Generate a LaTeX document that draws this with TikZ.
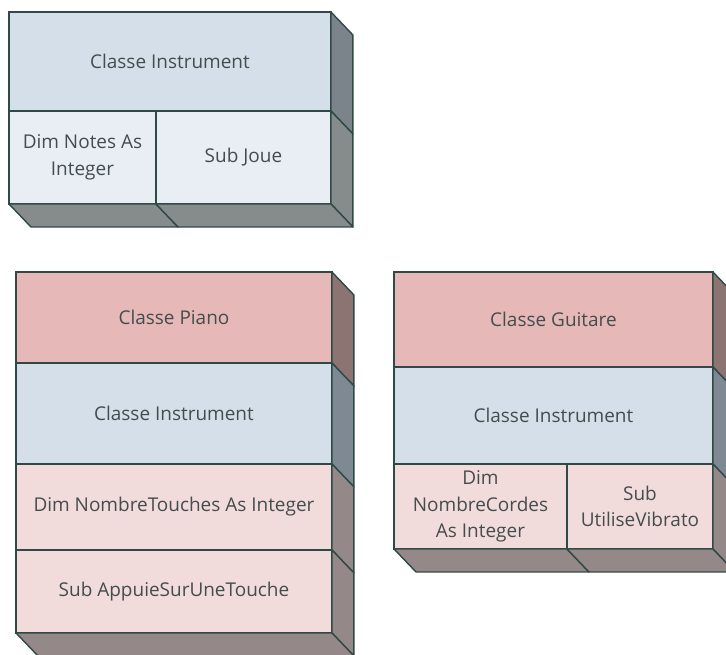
\documentclass[tikz,border=0pt]{standalone}
\usepackage{fontspec}
\setmainfont{Open Sans}
\usetikzlibrary{positioning, backgrounds}
\definecolor{edgegreen}{HTML}{2F4A46}
\definecolor{textgray}{HTML}{444D4D}
\definecolor{bluehead}{HTML}{D5DFE9}
\definecolor{bluelight}{HTML}{E9EEF4}
\definecolor{pinkhead}{HTML}{E6B8B7}
\definecolor{pinklight}{HTML}{F2DCDB}
\definecolor{sideblue}{HTML}{7B848A}
\definecolor{sidegray}{HTML}{868B8C}
\definecolor{sidepinkhead}{HTML}{8C7472}
\definecolor{sidebluemid}{HTML}{7E8993}
\definecolor{sidepink}{HTML}{958888}

\begin{document}
\begin{tikzpicture}[
        x=0.02cm, y=-0.02cm,
        cell/.style={rectangle, draw=edgegreen, line width=0.8pt, outer sep=0pt, inner sep=2pt,
                     align=center, text=textgray, font=\fontsize{10.8}{15}\selectfont},
        face/.style={draw=edgegreen, line width=0.8pt, line join=round},
    ]
    \clip (0,0) rectangle (726,654);
    \fill[white] (0,0) rectangle (726,654);

    % ===== Classe Instrument (alone) =====
    \node[cell, fill=bluehead, anchor=north west, minimum width=6.44cm, minimum height=1.98cm]
        (I_HEAD) at (9,12) {Classe Instrument};
    \node[cell, fill=bluelight, minimum width=2.94cm, minimum height=1.86cm,
          below right=0pt and 0pt of I_HEAD.south west] (I_DIM) {Dim Notes As\\Integer};
    \node[cell, fill=bluelight, minimum width=3.5cm, minimum height=1.86cm,
          right=0pt of I_DIM] (I_SUB) {Sub Joue};

    % ===== Classe Piano =====
    \node[cell, fill=pinkhead, anchor=north west, minimum width=6.32cm, minimum height=1.82cm]
        (P_HEAD) at (16,272) {Classe Piano};
    \node[cell, fill=bluehead, minimum width=6.32cm, minimum height=2.02cm,
          below=0pt of P_HEAD] (P_INST) {Classe Instrument};
    \node[cell, fill=pinklight, minimum width=6.32cm, minimum height=1.72cm,
          below=0pt of P_INST] (P_DIM) {Dim NombreTouches As Integer};
    \node[cell, fill=pinklight, minimum width=6.32cm, minimum height=1.66cm,
          below=0pt of P_DIM] (P_SUB) {Sub AppuieSurUneTouche};

    % ===== Classe Guitare =====
    \node[cell, fill=pinkhead, anchor=north west, minimum width=6.38cm, minimum height=1.9cm]
        (G_HEAD) at (394,272) {Classe Guitare};
    \node[cell, fill=bluehead, minimum width=6.38cm, minimum height=1.94cm,
          below=0pt of G_HEAD] (G_INST) {Classe Instrument};
    \node[cell, fill=pinklight, minimum width=3.46cm, minimum height=1.7cm,
          below right=0pt and 0pt of G_INST.south west] (G_DIM) {Dim\\NombreCordes\\As Integer};
    \node[cell, fill=pinklight, minimum width=2.92cm, minimum height=1.7cm,
          right=0pt of G_DIM] (G_SUB) {Sub\\UtiliseVibrato};

    % ===== 3D side faces =====
    \foreach \n/\c in {I_HEAD/sideblue, I_SUB/sidegray,
                       P_HEAD/sidepinkhead, P_INST/sidebluemid, P_DIM/sidepink, P_SUB/sidepink,
                       G_HEAD/sidepinkhead, G_INST/sidebluemid, G_SUB/sidepink} {
        \filldraw[face, fill=\c] (\n.north east) -- ++(22,23) -- ([shift={(22,23)}]\n.south east)
            -- (\n.south east) -- cycle;
    }

    % ===== 3D bottom faces =====
    \foreach \n/\c in {I_DIM/sidegray, I_SUB/sidegray, P_SUB/sidepink,
                       G_DIM/sidepink, G_SUB/sidepink} {
        \filldraw[face, fill=\c] (\n.south west) -- ++(22,23) -- ([shift={(22,23)}]\n.south east)
            -- (\n.south east) -- cycle;
    }

\end{tikzpicture}
\end{document}
